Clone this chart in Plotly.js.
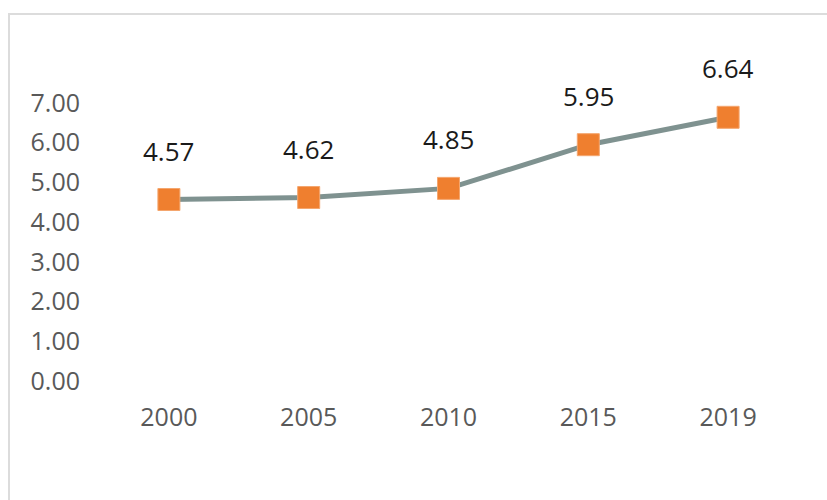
<!DOCTYPE html>
<html>
<head>
<meta charset="utf-8">
<script src="https://cdn.plot.ly/plotly-3.0.1.min.js"></script>
<style>
html,body{margin:0;padding:0;background:#fff;}
#wrap{position:relative;width:827px;height:500px;}
#chart{position:absolute;left:0;top:0;width:827px;height:500px;}
#frame{position:absolute;left:8px;top:13px;width:830px;height:500px;border-left:2px solid #dcdcdc;border-top:2px solid #dcdcdc;pointer-events:none;}
</style>
</head>
<body>
<div id="wrap"><div id="chart"></div><div id="frame"></div></div>
<script>
const years = ['2000', '2005', '2010', '2015', '2019'];
const values = [4.57, 4.62, 4.85, 5.95, 6.64];
const yTicks = [0, 1, 2, 3, 4, 5, 6, 7];

const trace = {
  x: years,
  y: values,
  type: 'scatter',
  mode: 'lines+markers',
  line: {color: '#7f9290', width: 5},
  marker: {symbol: 'square', size: 22, color: '#ef7f2f', line: {color: '#f4a66e', width: 1}},
  hoverinfo: 'skip',
  cliponaxis: false
};

const annotations = years.map((yr, i) => ({
  x: i, y: values[i], xref: 'x', yref: 'y',
  text: values[i].toFixed(2),
  showarrow: false, yanchor: 'middle', xanchor: 'center',
  yshift: 49,
  font: {family: 'Open Sans, Noto Sans, sans-serif', size: 26, color: '#1a1a1a'}
}));

const layout = {
  width: 827, height: 500,
  margin: {l: 99, r: 29, t: 103, b: 119},
  paper_bgcolor: '#ffffff', plot_bgcolor: '#ffffff',
  showlegend: false,
  xaxis: {
    type: 'category', range: [-0.5, 4.5],
    showline: false, showgrid: false, zeroline: false, ticks: '',
    ticklabelstandoff: 19,
    tickfont: {family: 'Open Sans, Noto Sans, sans-serif', size: 25, color: '#595959'}
  },
  yaxis: {
    range: [0, 7], tickvals: yTicks, ticktext: yTicks.map(v => v.toFixed(2)),
    showline: false, showgrid: false, zeroline: false, ticks: '',
    ticklabelstandoff: 18,
    tickfont: {family: 'Open Sans, Noto Sans, sans-serif', size: 25, color: '#595959'}
  },
  annotations: annotations
};

Plotly.newPlot('chart', [trace], layout, {staticPlot: true, displayModeBar: false});
</script>
</body>
</html>
